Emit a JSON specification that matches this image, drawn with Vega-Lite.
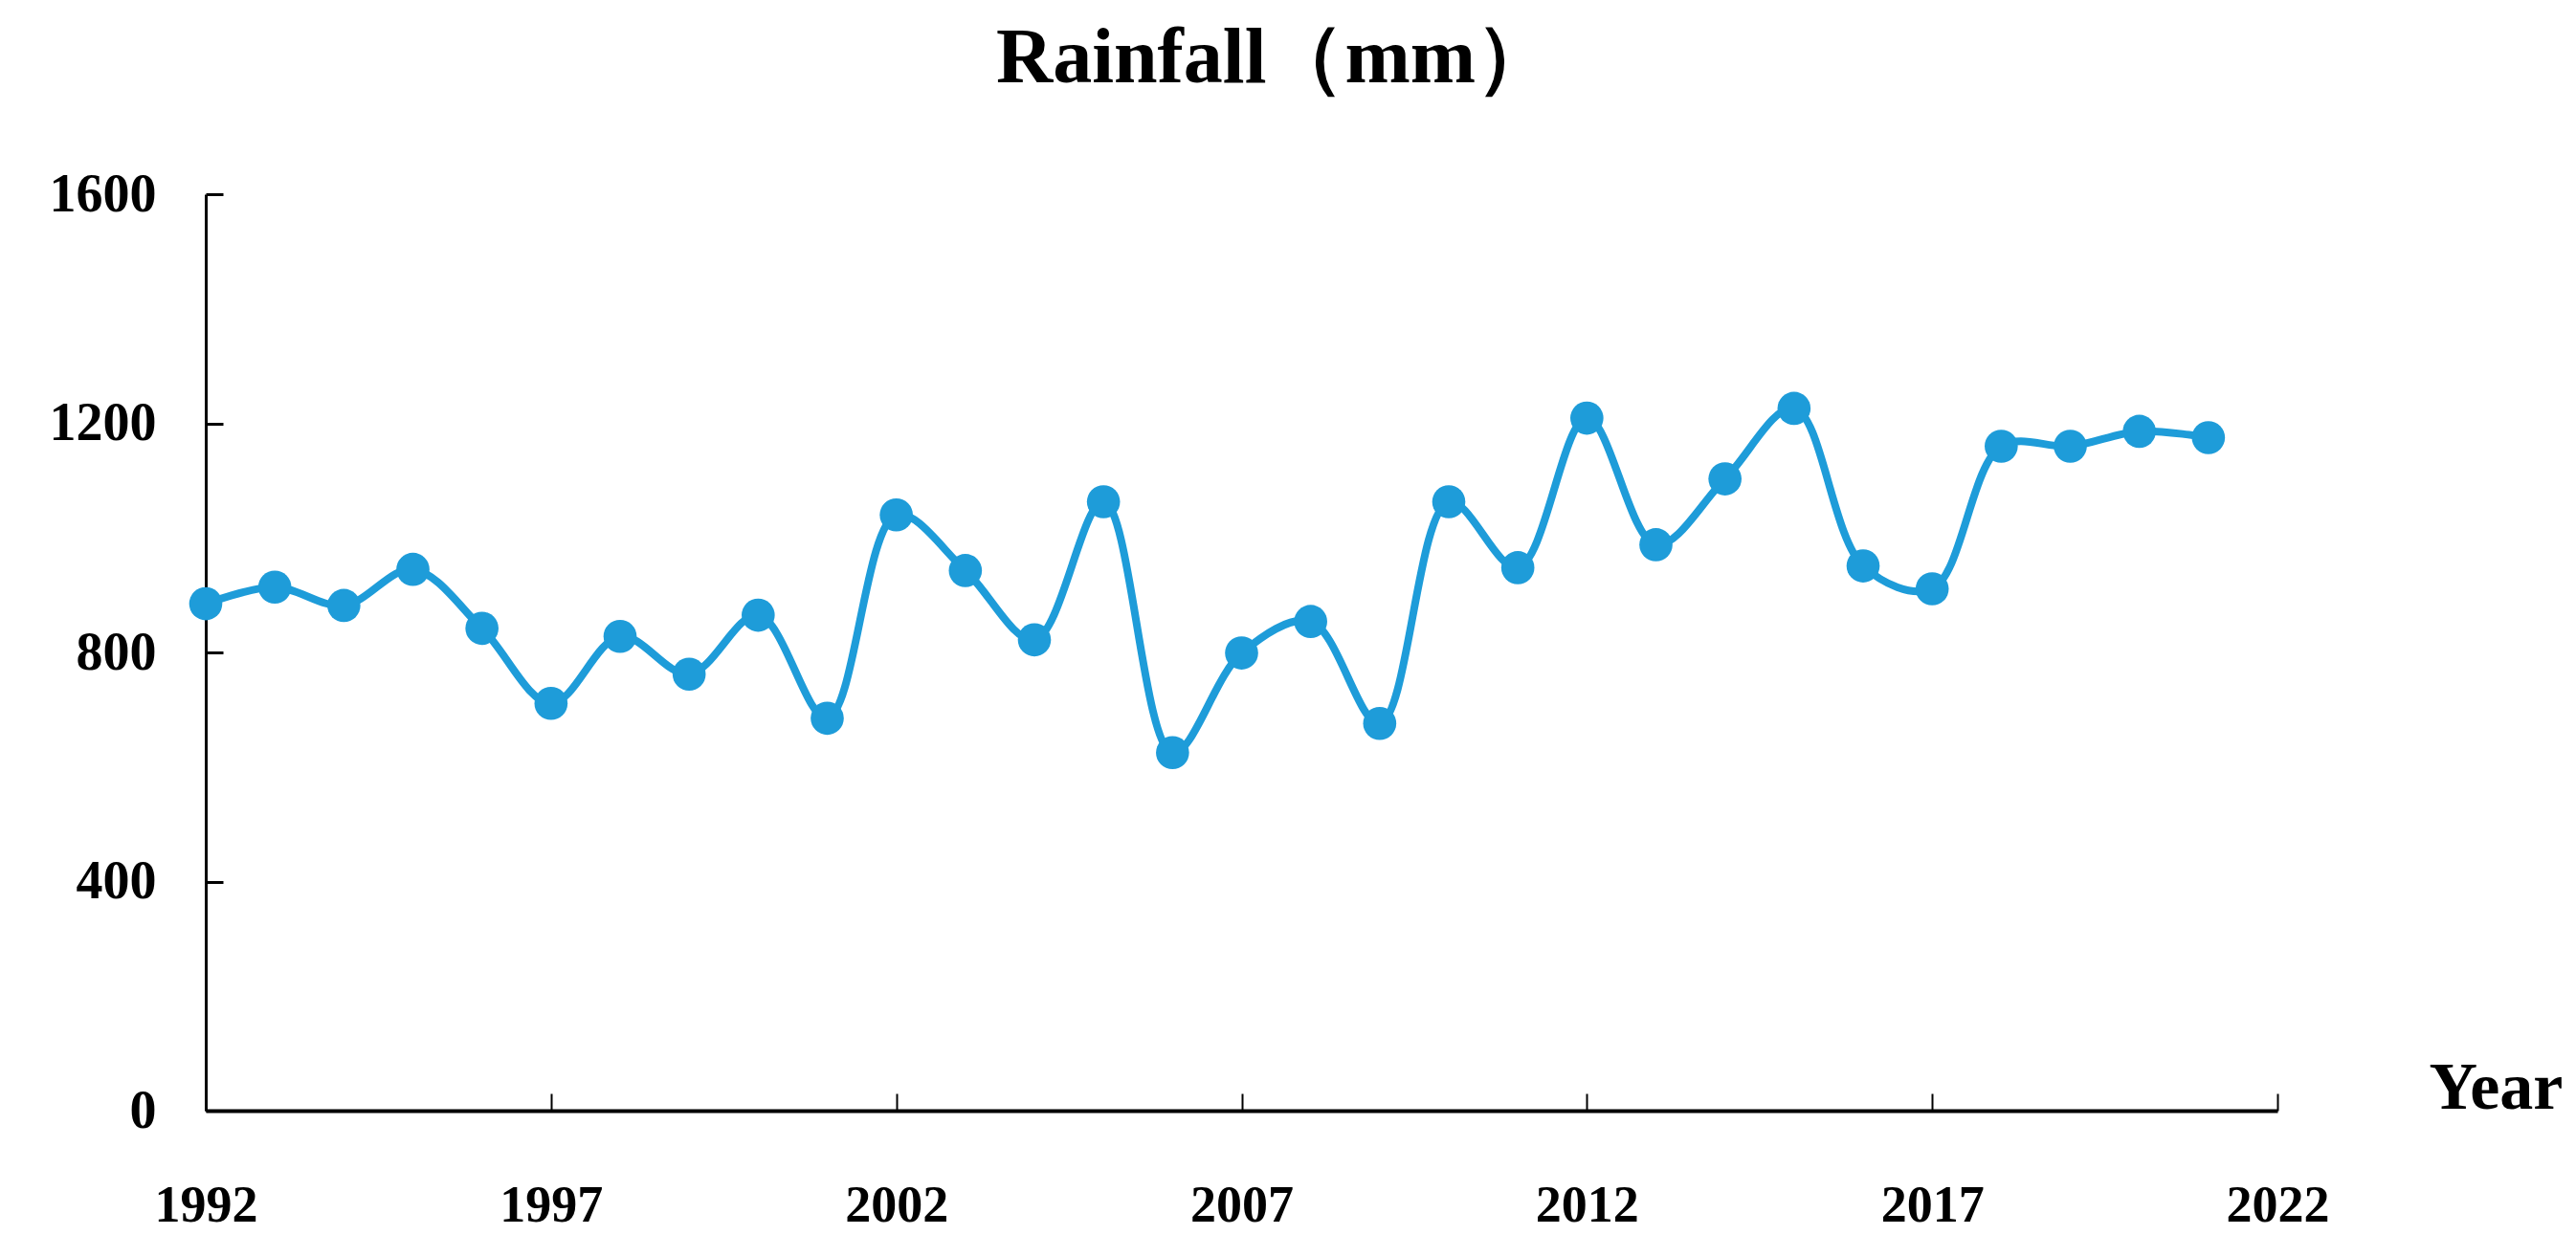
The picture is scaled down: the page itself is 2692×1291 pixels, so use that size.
{
  "$schema": "https://vega.github.io/schema/vega-lite/v6.json",
  "width": 2165,
  "height": 958,
  "autosize": {"type": "none"},
  "padding": {"left": 215, "top": 203, "right": 312, "bottom": 130},
  "background": "white",
  "config": {"view": {"stroke": null}},
  "title": {
    "text": "Rainfall（mm）",
    "font": "Liberation Serif",
    "fontSize": 82,
    "fontWeight": "bold",
    "color": "black",
    "anchor": "middle",
    "dx": 35,
    "offset": 72
  },
  "data": {
    "values": [
      {"year": 1992, "rainfall": 885},
      {"year": 1993, "rainfall": 914},
      {"year": 1994, "rainfall": 882},
      {"year": 1995, "rainfall": 945},
      {"year": 1996, "rainfall": 842},
      {"year": 1997, "rainfall": 711},
      {"year": 1998, "rainfall": 828},
      {"year": 1999, "rainfall": 762},
      {"year": 2000, "rainfall": 865},
      {"year": 2001, "rainfall": 685},
      {"year": 2002, "rainfall": 1040},
      {"year": 2003, "rainfall": 943},
      {"year": 2004, "rainfall": 822},
      {"year": 2005, "rainfall": 1063},
      {"year": 2006, "rainfall": 625},
      {"year": 2007, "rainfall": 799},
      {"year": 2008, "rainfall": 854},
      {"year": 2009, "rainfall": 676},
      {"year": 2010, "rainfall": 1063},
      {"year": 2011, "rainfall": 948},
      {"year": 2012, "rainfall": 1209},
      {"year": 2013, "rainfall": 988},
      {"year": 2014, "rainfall": 1103},
      {"year": 2015, "rainfall": 1226},
      {"year": 2016, "rainfall": 951},
      {"year": 2017, "rainfall": 911},
      {"year": 2018, "rainfall": 1160},
      {"year": 2019, "rainfall": 1160},
      {"year": 2020, "rainfall": 1186},
      {"year": 2021, "rainfall": 1175}
    ]
  },
  "encoding": {
    "x": {
      "field": "year",
      "type": "quantitative",
      "scale": {"domain": [1992, 2022], "nice": false, "zero": false},
      "axis": {
        "values": [1992, 1997, 2002, 2007, 2012, 2017, 2022],
        "format": "d",
        "grid": false,
        "domainColor": "black",
        "domainWidth": 4,
        "tickColor": "black",
        "tickWidth": 2,
        "tickSize": -18,
        "labelFont": "Liberation Serif",
        "labelFontWeight": "bold",
        "labelFontSize": 54,
        "labelColor": "black",
        "labelPadding": 90,
        "labelFlush": false,
        "title": "Year",
        "titleFont": "Liberation Serif",
        "titleFontWeight": "bold",
        "titleFontSize": 70,
        "titleColor": "black",
        "titleAlign": "left",
        "titleBaseline": "middle",
        "titleX": 2323,
        "titleY": -24
      }
    },
    "y": {
      "field": "rainfall",
      "type": "quantitative",
      "scale": {"domain": [0, 1600], "nice": false},
      "axis": {
        "values": [0, 400, 800, 1200, 1600],
        "format": "d",
        "grid": false,
        "domainColor": "black",
        "domainWidth": 3,
        "tickColor": "black",
        "tickWidth": 3,
        "tickSize": -18,
        "labelFont": "Liberation Serif",
        "labelFontWeight": "bold",
        "labelFontSize": 56,
        "labelColor": "black",
        "labelPadding": 70,
        "title": null
      }
    }
  },
  "layer": [
    {
      "mark": {"type": "line", "interpolate": "catmull-rom", "color": "#1E9CD9", "strokeWidth": 8}
    },
    {
      "mark": {"type": "point", "filled": true, "opacity": 1, "color": "#1E9CD9", "size": 1200}
    }
  ]
}
